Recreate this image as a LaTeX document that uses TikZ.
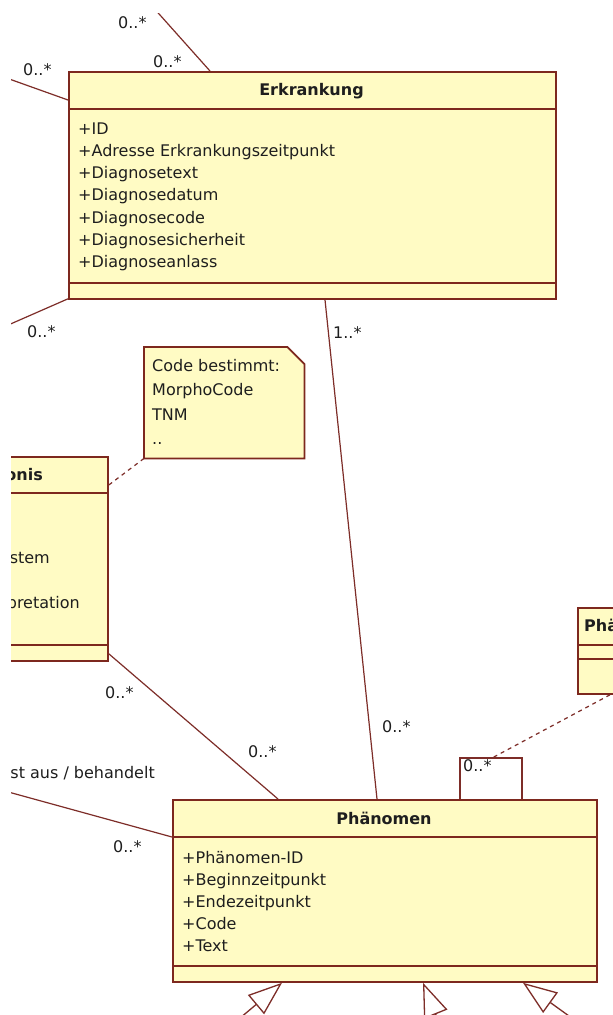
\documentclass[tikz,border=0pt]{standalone}
\usepackage{fontspec}
\setmainfont{DejaVu Sans}
\usetikzlibrary{arrows.meta,calc}
\definecolor{boxfill}{RGB}{255,251,196}
\definecolor{boxline}{RGB}{125,40,30}
\definecolor{conn}{RGB}{125,45,40}
\definecolor{txt}{RGB}{30,30,30}
\begin{document}
\begin{tikzpicture}[x=1pt,y=-1pt,
  classbox/.style={draw=boxline, fill=boxfill, line width=1.8pt, inner sep=0pt, anchor=north west},
  sep/.style={draw=boxline, line width=1.5pt},
  attr/.style={anchor=base west, inner sep=0pt, font=\fontsize{16}{22}\selectfont, text=txt},
  ttl/.style={inner sep=0pt, font=\fontsize{16}{22}\selectfont\bfseries, text=txt},
  mult/.style={inner sep=0pt, anchor=west, font=\fontsize{16}{22}\selectfont, text=txt},
  assoc/.style={draw=conn, line width=1.2pt},
  dep/.style={draw=conn, line width=1.2pt, dash pattern=on 4pt off 4pt},
  gen/.style={draw=conn, line width=1.3pt, -{Triangle[open,length=34pt,width=25pt]}},
]
\useasboundingbox (0,0) rectangle (613,1015);
\fill[white] (0,0) rectangle (613,1015);
\begin{scope}
\clip (11,13) rectangle (613,1015);

% ---------- class Erkrankung ----------
\node[classbox, minimum width=487pt, minimum height=227pt] (erk) at (68,71) {};
\draw[sep] ($(erk.north west)+(0,38)$) -- ($(erk.north east)+(0,38)$);
\draw[sep] ($(erk.south west)+(0,-17)$) -- ($(erk.south east)+(0,-17)$);
\node[ttl] (erkT) at (311.5,91) {Erkrankung};
\foreach \t [count=\i from 0] in {+ID,+Adresse Erkrankungszeitpunkt,+Diagnosetext,+Diagnosedatum,+Diagnosecode,+Diagnosesicherheit,+Diagnoseanlass}
  \node[attr] (erkA\i) at (78,{134+22.3*\i}) {\t};

% ---------- class Phaenomen ----------
\node[classbox, minimum width=424pt, minimum height=182pt] (phen) at (172,799) {};
\draw[sep] ($(phen.north west)+(0,38)$) -- ($(phen.north east)+(0,38)$);
\draw[sep] ($(phen.south west)+(0,-17)$) -- ($(phen.south east)+(0,-17)$);
\node[ttl] (phenT) at (384,818) {Phänomen};
\foreach \t [count=\i from 0] in {+Phänomen-ID,+Beginnzeitpunkt,+Endezeitpunkt,+Code,+Text}
  \node[attr] (phenA\i) at (182,{863+22*\i}) {\t};

% ---------- class ...onis (cut off) ----------
\node[classbox, minimum width=147pt, minimum height=204pt] (prog) at (-40,456) {};
\draw[sep] ($(prog.north west)+(0,37)$) -- ($(prog.north east)+(0,37)$);
\draw[sep] ($(prog.south west)+(0,-17)$) -- ($(prog.south east)+(0,-17)$);
\node[ttl, anchor=east] (progT) at (43,475) {onis};
\node[attr, anchor=base east] (progA1) at (50,563) {stem};
\node[attr, anchor=base east] (progA2) at (80,608) {pretation};

% ---------- class Phae... (cut off) ----------
\node[classbox, minimum width=80pt, minimum height=86pt] (pha) at (577,607) {};
\draw[sep] ($(pha.north west)+(0,38)$) -- ($(pha.north east)+(0,38)$);
\draw[sep] ($(pha.north west)+(0,52)$) -- ($(pha.north east)+(0,52)$);
\node[ttl, anchor=west] (phaT) at (584,625) {Phä};

% ---------- note ----------
\node[minimum width=160pt, minimum height=111pt, inner sep=0pt, anchor=north west] (note) at (144,347) {};
\draw[draw=boxline, fill=boxfill, line width=1.8pt]
  (note.north west) -- ($(note.north east)+(-17,0)$) -- ($(note.north east)+(0,17)$)
  -- (note.south east) -- (note.south west) -- cycle;
\node[attr] (noteL1) at (152,371) {Code bestimmt:};
\node[attr] (noteL2) at (152,395.5) {MorphoCode};
\node[attr] (noteL3) at (152,420) {TNM};
\node[attr] (noteL4) at (152,444.5) {..};

% ---------- free ends ----------
\coordinate (cTop) at (146.6,0);
\coordinate (cLeftA) at (0,75.7);
\coordinate (cLeftB) at (0,328.6);
\coordinate (cLeftC) at (0,789.7);
\coordinate (cG1) at (221.6,1033.5);
\coordinate (cG2) at (452.4,1055.4);
\coordinate (cG3) at (587,1029);
\coordinate (loopTop) at (492,758);

% ---------- connectors ----------
\draw[assoc] (cTop) -- ($(erk.north west)+(142,0)$);
\draw[assoc] (cLeftA) -- ($(erk.north west)+(0,29)$);
\draw[assoc] (cLeftB) -- ($(erk.south west)+(0,-1)$);
\draw[assoc] ($(erk.south west)+(257,0)$) -- ($(phen.north west)+(205,0)$);
\draw[assoc] ($(prog.south east)+(0,-8)$) -- ($(phen.north west)+(106,0)$);
\draw[assoc] (cLeftC) -- ($(phen.north west)+(0,38)$);
\draw[dep] (note.south west) -- ($(prog.north east)+(0,29)$);
\draw[assoc] ($(phen.north west)+(288,0)$) -- (460,758) -- (522,758) -- ($(phen.north west)+(350,0)$);
\draw[dep] ($(pha.south west)+(33,0)$) -- (loopTop);
\draw[gen] (cG1) -- ($(phen.south west)+(110,0)$);
\draw[gen] (cG2) -- ($(phen.south west)+(251,0)$);
\draw[gen] (cG3) -- ($(phen.south west)+(351,0)$);

% ---------- labels ----------
\node[mult] (m1) at (118,23) {0..*};
\node[mult] (m2) at (153,62) {0..*};
\node[mult] (m3) at (23,70) {0..*};
\node[mult] (m4) at (27,332) {0..*};
\node[mult] (m5) at (333,333) {1..*};
\node[mult] (m6) at (105,693) {0..*};
\node[mult] (m7) at (248,752) {0..*};
\node[mult] (m8) at (382,727) {0..*};
\node[mult] (m9) at (463,766) {0..*};
\node[mult] (m10) at (113,847) {0..*};
\node[mult, anchor=east] (lbl) at (155,773) {st aus / behandelt};
\end{scope}
\end{tikzpicture}
\end{document}
